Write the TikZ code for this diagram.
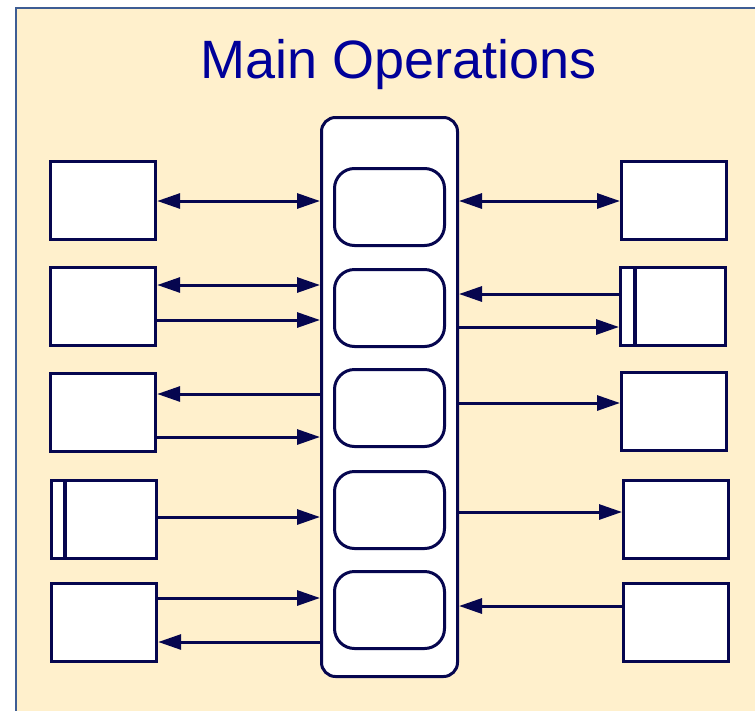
\documentclass[tikz,border=0pt]{standalone}
\usepackage{fontspec}
\setmainfont{Liberation Sans}
\usetikzlibrary{arrows.meta}
\definecolor{navy}{HTML}{06064F}
\definecolor{bgyellow}{HTML}{FFF0CC}
\definecolor{framec}{HTML}{3E5D94}
\definecolor{titlec}{HTML}{000099}
\tikzset{
  sidebox/.style={draw=navy, fill=white, line width=3.2pt, minimum width=105pt, minimum height=78pt, inner sep=0pt, anchor=north west},
  opbox/.style={draw=navy, fill=white, line width=3pt, rounded corners=20pt, minimum width=110pt, minimum height=77pt, inner sep=0pt, anchor=north west},
  conn/.style={draw=navy, line width=3pt},
  tip/.tip={Triangle[length=23pt,width=15pt]},
  fwd/.style={conn, -tip},
  back/.style={conn, tip-},
  both/.style={conn, tip-tip},
}
\begin{document}
\begin{tikzpicture}[x=1pt,y=-1pt]
\useasboundingbox (0,0) rectangle (755,710);
\fill[white] (0,0) rectangle (755,710);
\filldraw[fill=bgyellow, draw=framec, line width=2.2pt] (16,8) rectangle (770,730);
\node[text=titlec, font=\fontsize{54}{60}\selectfont, anchor=base] (title) at (399,78) {Main Operations};
% central container
\node[draw=navy, fill=white, line width=3pt, rounded corners=14pt, minimum width=136pt, minimum height=559pt, inner sep=0pt, anchor=north west] (hub) at (320,116) {};
% operation boxes
\node[opbox] (o1) at (333,167) {};
\node[opbox] (o2) at (333,268) {};
\node[opbox] (o3) at (333,368) {};
\node[opbox] (o4) at (333,470) {};
\node[opbox] (o5) at (333,570) {};
% left boxes
\node[sidebox] (l1) at (49,160) {};
\node[sidebox] (l2) at (49,266) {};
\node[sidebox] (l3) at (49,372) {};
\node[sidebox] (l4) at (50,479) {};
\node[sidebox] (l5) at (50,582) {};
\draw[navy, line width=3.2pt] ([xshift=15pt]l4.north west) -- ([xshift=15pt]l4.south west);
% right boxes
\node[sidebox] (r1) at (620,160) {};
\node[sidebox] (r2) at (619,266) {};
\node[sidebox] (r3) at (620,371) {};
\node[sidebox] (r4) at (622,479) {};
\node[sidebox] (r5) at (622,582) {};
\draw[navy, line width=3.2pt] ([xshift=16pt]r2.north west) -- ([xshift=16pt]r2.south west);
% left connectors
\draw[both] (l1.east |- 0,201) -- (hub.west |- 0,201);
\draw[both] (l2.east |- 0,285) -- (hub.west |- 0,285);
\draw[fwd] (l2.east |- 0,320) -- (hub.west |- 0,320);
\draw[back] (l3.east |- 0,394) -- (hub.west |- 0,394);
\draw[fwd] (l3.east |- 0,437) -- (hub.west |- 0,437);
\draw[fwd] (l4.east |- 0,517) -- (hub.west |- 0,517);
\draw[fwd] (l5.east |- 0,598) -- (hub.west |- 0,598);
\draw[back] (l5.east |- 0,642) -- (hub.west |- 0,642);
% right connectors
\draw[both] (hub.east |- 0,201) -- (r1.west |- 0,201);
\draw[back] (hub.east |- 0,294) -- (r2.west |- 0,294);
\draw[fwd] (hub.east |- 0,327) -- (r2.west |- 0,327);
\draw[fwd] (hub.east |- 0,403) -- (r3.west |- 0,403);
\draw[fwd] (hub.east |- 0,512) -- (r4.west |- 0,512);
\draw[back] (hub.east |- 0,606) -- (r5.west |- 0,606);
\end{tikzpicture}
\end{document}
